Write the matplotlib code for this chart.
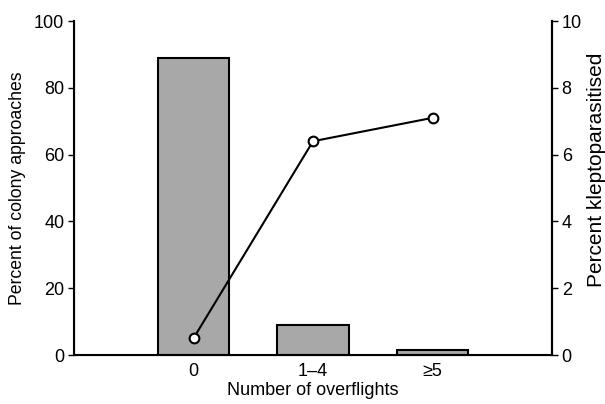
import matplotlib
matplotlib.use("Agg")
import matplotlib.pyplot as plt

plt.rcParams['font.family'] = ['Liberation Sans', 'DejaVu Sans']

categories = ["0", "1\u20134", "\u22655"]
approaches = [89.0, 9.0, 1.5]
klepto = [0.5, 6.4, 7.1]

fs = 13
fig = plt.figure(figsize=(6.05, 4.04), dpi=100)
ax = fig.add_axes([74/605, 1-355/404, (552-74)/605, (355-21)/404])
x = list(range(len(categories)))
ax.bar(x, approaches, width=0.6, color="#a8a8a8", edgecolor="black", linewidth=1.5, zorder=2)
ax.set_xlim(-1, 3)
ax.set_ylim(0, 100)
ax.set_yticks([0, 20, 40, 60, 80, 100])
ax.set_xticks(x)
ax.set_xticklabels(categories)
ax.tick_params(axis='x', length=0, labelsize=fs, pad=6)
ax.tick_params(axis='y', labelsize=fs, length=4, width=1, pad=3)
ax.spines['top'].set_visible(False)
for s in ['left', 'bottom', 'right']:
    ax.spines[s].set_linewidth(1.5)
ax.set_xlabel("Number of overflights", fontsize=fs, labelpad=1)
ax.set_ylabel("Percent of colony approaches", fontsize=12.7, labelpad=6)

ax2 = ax.twinx()
ax2.set_ylim(0, 10)
ax2.set_yticks([0, 2, 4, 6, 8, 10])
ax2.plot(x, klepto, color="black", linewidth=1.5, marker="o", markersize=7,
         markerfacecolor="white", markeredgecolor="black", markeredgewidth=1.5, zorder=3)
ax2.spines['top'].set_visible(False)
ax2.spines['right'].set_linewidth(1.5)
ax2.tick_params(axis='y', labelsize=fs, length=4, width=1, pad=3)
ax2.set_ylabel("Percent kleptoparasitised", fontsize=15, rotation=90)
ax2.yaxis.set_label_coords((587 - 74) / (552 - 74), (355 - 170) / 334)

fig.savefig("out.png", dpi=100)
